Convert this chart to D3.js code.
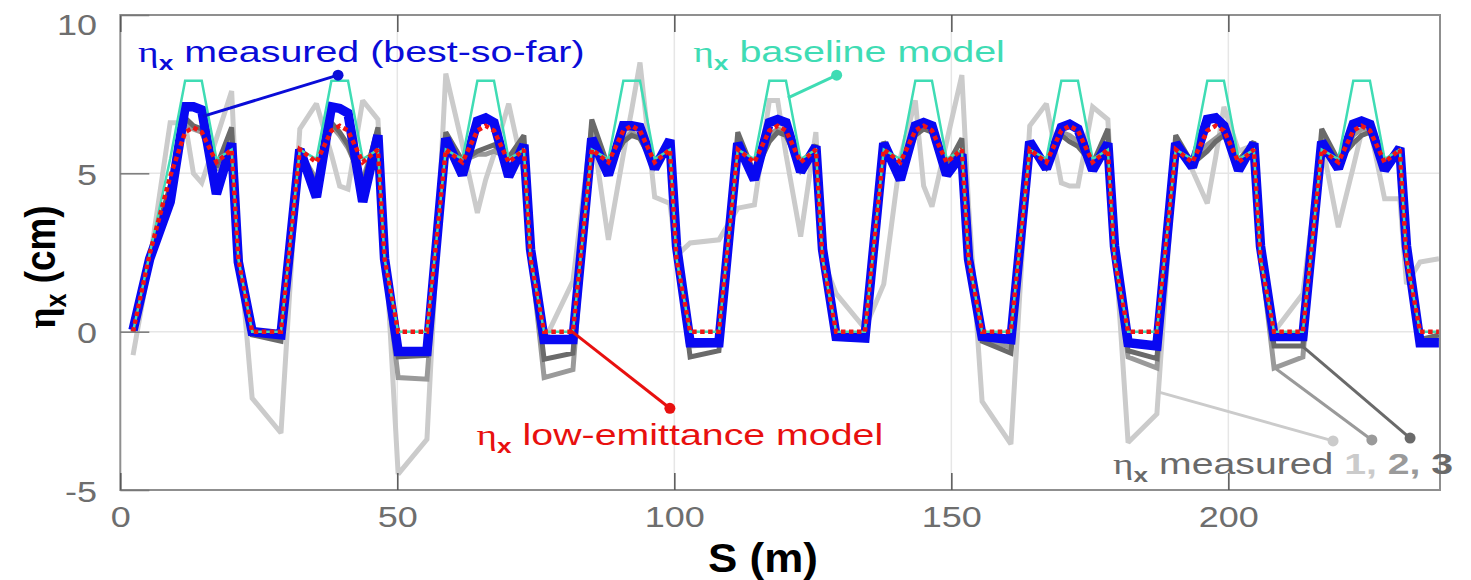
<!DOCTYPE html>
<html>
<head>
<meta charset="utf-8">
<script src="https://cdn.jsdelivr.net/npm/d3@7"></script>
<style>
  html, body { margin: 0; padding: 0; background: #fff; }
  svg { display: block; }
</style>
</head>
<body>
<script>
// BPM positions along the ring (m); one row per straight + arc
const sPosition = [
  2.3, 5.3, 9.0, 11.7, 13.2, 14.7, 17.35, 20.1, 21.3,
  23.8, 29.0, 32.4, 35.4, 38.1, 39.6, 41.1, 43.75, 46.5, 47.7,
  50.15, 55.35, 58.75, 61.75, 64.45, 65.95, 67.45, 70.1, 72.85, 74.05,
  76.5, 81.7, 85.1, 88.1, 90.8, 92.3, 93.8, 96.45, 99.2, 100.4,
  102.85, 108.05, 111.45, 114.45, 117.15, 118.65, 120.15, 122.8, 125.55, 126.75,
  129.2, 134.4, 137.8, 140.8, 143.5, 145.0, 146.5, 149.15, 151.9, 153.1,
  155.55, 160.75, 164.15, 167.15, 169.85, 171.35, 172.85, 175.5, 178.25, 179.45,
  181.9, 187.1, 190.5, 193.5, 196.2, 197.7, 199.2, 201.85, 204.6, 205.8,
  208.25, 213.45, 216.85, 219.85, 222.55, 224.05, 225.55, 228.2, 230.95, 232.15,
  234.6, 238.0
];

// Baseline lattice model (cm)
const etaBaseline = [
  0, 2.45, 5.45, 7.92, 7.92, 7.92, 5.45, 5.75, 2.3,
  0, 0, 5.75, 5.45, 7.92, 7.92, 7.92, 5.45, 5.75, 2.3,
  0, 0, 5.75, 5.45, 7.92, 7.92, 7.92, 5.45, 5.75, 2.3,
  0, 0, 5.75, 5.45, 7.92, 7.92, 7.92, 5.45, 5.75, 2.3,
  0, 0, 5.75, 5.45, 7.92, 7.92, 7.92, 5.45, 5.75, 2.3,
  0, 0, 5.75, 5.45, 7.92, 7.92, 7.92, 5.45, 5.75, 2.3,
  0, 0, 5.75, 5.45, 7.92, 7.92, 7.92, 5.45, 5.75, 2.3,
  0, 0, 5.75, 5.45, 7.92, 7.92, 7.92, 5.45, 5.75, 2.3,
  0, 0, 5.75, 5.45, 7.92, 7.92, 7.92, 5.45, 5.75, 2.3,
  0, 0
];

// Low-emittance lattice model (cm)
const etaLowEmittance = [
  0, 2.45, 4.9, 6.3, 6.45, 6.3, 5.35, 5.75, 2.3,
  0, 0, 5.75, 5.35, 6.35, 6.5, 6.35, 5.35, 5.75, 2.3,
  0, 0, 5.75, 5.35, 6.35, 6.5, 6.35, 5.35, 5.75, 2.3,
  0, 0, 5.75, 5.35, 6.35, 6.5, 6.35, 5.35, 5.75, 2.3,
  0, 0, 5.75, 5.35, 6.35, 6.5, 6.35, 5.35, 5.75, 2.3,
  0, 0, 5.75, 5.35, 6.35, 6.5, 6.35, 5.35, 5.75, 2.3,
  0, 0, 5.75, 5.35, 6.35, 6.5, 6.35, 5.35, 5.75, 2.3,
  0, 0, 5.75, 5.35, 6.35, 6.5, 6.35, 5.35, 5.75, 2.3,
  0, 0, 5.75, 5.35, 6.35, 6.5, 6.35, 5.35, 5.75, 2.3,
  0, 0
];

// Measured, best correction so far (cm)
const etaBestSoFar = [
  0.05, 2.3, 4.1, 7.1, 7.1, 7.0, 4.35, 5.95, 2.2,
  0.0, -0.1, 5.75, 4.25, 7.1, 7.05, 6.9, 4.1, 6.2, 2.3,
  -0.63, -0.63, 6.1, 4.95, 6.65, 6.75, 6.6, 4.9, 5.9, 2.6,
  -0.25, -0.25, 6.1, 4.95, 6.5, 6.5, 6.45, 5.15, 6.05, 2.7,
  -0.35, -0.35, 5.95, 4.8, 6.6, 6.7, 6.6, 5.05, 5.85, 2.6,
  -0.15, -0.2, 5.95, 4.8, 6.5, 6.6, 6.5, 4.95, 5.6, 2.3,
  -0.15, -0.25, 6.0, 5.15, 6.45, 6.55, 6.4, 5.1, 5.95, 2.7,
  -0.35, -0.45, 5.95, 5.2, 6.7, 6.75, 6.5, 5.1, 5.95, 2.7,
  -0.15, -0.15, 6.0, 5.15, 6.55, 6.65, 6.55, 5.1, 5.8, 2.7,
  -0.35, -0.35
];

// Earlier measurements 1, 2, 3 (cm)
const etaMeasured1 = [
  -0.74, 2.2, 6.6, 6.6, 5.0, 4.7, 6.1, 7.6, 3.0,
  -2.1, -3.2, 6.4, 7.2, 5.6, 4.6, 4.5, 7.3, 6.7, 3.2,
  -4.5, -3.4, 8.15, 5.9, 3.75, 4.8, 5.6, 7.2, 5.0, 2.5,
  -0.3, 1.6, 6.5, 2.9, 5.6, 7.0, 8.5, 4.25, 4.05, 2.4,
  2.8, 2.9, 3.9, 4.0, 7.3, 7.3, 5.6, 3.0, 6.3, 2.3,
  1.2, 0.1, 1.5, 5.5, 7.3, 4.6, 3.95, 6.0, 8.1, 4.0,
  -2.2, -3.55, 6.5, 7.2, 4.7, 4.6, 4.6, 7.1, 6.7, 3.0,
  -3.5, -2.6, 6.0, 5.1, 4.05, 5.5, 7.1, 5.7, 5.9, 3.0,
  0.0, 1.2, 6.0, 3.3, 5.2, 6.3, 6.45, 4.2, 4.2, 1.5,
  2.2, 2.3
];
const etaMeasured2 = [
  0.0, 2.3, 4.5, 6.6, 6.4, 6.3, 5.1, 6.2, 2.3,
  0.0, -0.15, 5.7, 4.8, 6.5, 6.2, 5.8, 4.8, 6.3, 2.2,
  -1.45, -1.5, 6.1, 5.4, 5.6, 5.6, 5.7, 5.5, 5.8, 2.5,
  -1.45, -1.2, 6.3, 5.2, 6.0, 6.3, 6.1, 5.2, 5.9, 2.5,
  -0.45, -0.4, 6.0, 5.0, 6.2, 6.4, 6.3, 5.1, 5.8, 2.4,
  -0.1, -0.15, 5.9, 5.0, 6.3, 6.5, 6.3, 5.1, 5.6, 2.4,
  -0.2, -0.5, 5.9, 5.2, 6.3, 6.2, 6.0, 5.2, 6.0, 2.6,
  -0.8, -1.15, 6.0, 5.3, 5.9, 6.1, 6.3, 5.3, 5.9, 2.5,
  -1.15, -0.8, 6.1, 5.3, 6.2, 6.4, 6.4, 5.2, 5.7, 2.5,
  -0.3, -0.2
];
const etaMeasured3 = [
  0.0, 2.4, 4.6, 6.75, 6.5, 6.4, 5.2, 6.45, 2.3,
  -0.1, -0.3, 5.8, 4.6, 6.6, 6.3, 5.9, 4.6, 6.45, 2.3,
  -0.8, -0.75, 6.3, 5.4, 5.7, 5.8, 5.9, 5.5, 6.2, 2.6,
  -0.87, -0.68, 6.7, 5.2, 6.0, 6.2, 6.1, 5.3, 6.0, 2.6,
  -0.8, -0.6, 6.3, 5.0, 6.0, 6.3, 6.2, 5.2, 5.9, 2.5,
  -0.2, -0.25, 6.0, 5.0, 6.2, 6.4, 6.3, 5.2, 6.1, 2.4,
  -0.3, -0.68, 6.0, 5.2, 6.2, 6.0, 5.85, 5.3, 6.4, 2.6,
  -0.6, -0.85, 6.2, 5.3, 5.7, 6.0, 6.2, 5.4, 6.0, 2.6,
  -0.45, -0.45, 6.4, 5.4, 5.95, 6.2, 6.3, 5.3, 5.8, 2.6,
  -0.25, -0.1
];

const xTicks = [0, 50, 100, 150, 200];
const yTicks = [-5, 0, 5, 10];

// ---------------------------------------------------------------------------
const W = 1471, H = 580;
const plot = { left: 120.3, right: 1440, top: 15, bottom: 490 };
const x = d3.scaleLinear().domain([0, 238.2]).range([plot.left, plot.right]);
const y = d3.scaleLinear().domain([-5, 10]).range([plot.bottom, plot.top]);

const SANS = "'Liberation Sans', Arial, Helvetica, sans-serif";
const SERIF = "'Liberation Serif', 'Times New Roman', serif";
const plainNumber = d => String(d);

const svg = d3.select('body').append('svg')
  .attr('width', W).attr('height', H)
  .style('background', '#fff');

svg.append('defs').append('clipPath').attr('id', 'plot-clip')
  .append('rect')
  .attr('x', plot.left).attr('y', plot.top)
  .attr('width', plot.right - plot.left).attr('height', plot.bottom - plot.top);

// grid
const grid = svg.append('g').attr('class', 'grid');
grid.selectAll('line.gx').data(xTicks.filter(d => d > 0)).join('line')
  .attr('class', 'gx')
  .attr('x1', d => x(d)).attr('x2', d => x(d))
  .attr('y1', plot.top).attr('y2', plot.bottom)
  .attr('stroke', '#e6e6e6').attr('stroke-width', 1.5);
grid.selectAll('line.gy').data(yTicks.filter(d => d > -5 && d < 10)).join('line')
  .attr('class', 'gy')
  .attr('x1', plot.left).attr('x2', plot.right)
  .attr('y1', d => y(d)).attr('y2', d => y(d))
  .attr('stroke', '#e6e6e6').attr('stroke-width', 1.5);

// dispersion curves
const lineGen = d3.line()
  .x((d, i) => x(sPosition[i]))
  .y(d => y(d));

const series = [
  { name: 'measured-1', values: etaMeasured1, color: '#cbcbcb', width: 5 },
  { name: 'measured-2', values: etaMeasured2, color: '#9a9a9a', width: 5 },
  { name: 'measured-3', values: etaMeasured3, color: '#6a6a6a', width: 5 },
  { name: 'best-so-far', values: etaBestSoFar, color: '#0808f2', width: 9.5 },
  { name: 'baseline', values: etaBaseline, color: '#3fdcb4', width: 2.5 },
  { name: 'low-emittance', values: etaLowEmittance, color: '#f01414', width: 4.5, dash: '4.5,3.5' }
];

const curves = svg.append('g').attr('clip-path', 'url(#plot-clip)');
curves.selectAll('path').data(series).join('path')
  .attr('d', d => lineGen(d.values))
  .attr('fill', 'none')
  .attr('stroke', d => d.color)
  .attr('stroke-width', d => d.width)
  .attr('stroke-linejoin', 'miter')
  .attr('stroke-miterlimit', 2.2)
  .attr('stroke-dasharray', d => d.dash || null);

// box
svg.append('rect')
  .attr('x', plot.left).attr('y', plot.top)
  .attr('width', plot.right - plot.left).attr('height', plot.bottom - plot.top)
  .attr('fill', 'none').attr('stroke', '#8f8f8f').attr('stroke-width', 2);

// axes
const gx = svg.append('g')
  .attr('transform', `translate(0,${plot.bottom})`)
  .call(d3.axisBottom(x).tickValues(xTicks).tickSize(-17).tickPadding(0).tickFormat(plainNumber));
gx.select('.domain').remove();
gx.attr('font-family', SANS).attr('font-size', 30);
gx.selectAll('.tick line').attr('stroke', '#555').attr('stroke-width', 1.5);
gx.selectAll('.tick text')
  .attr('y', 37).attr('dy', null)
  .attr('fill', '#6e6e6e')
  .attr('transform', 'scale(1.2,1)');

const gxTop = svg.append('g')
  .attr('transform', `translate(0,${plot.top})`)
  .call(d3.axisTop(x).tickValues(xTicks).tickSize(-17).tickFormat(''));
gxTop.select('.domain').remove();
gxTop.selectAll('.tick line').attr('stroke', '#555').attr('stroke-width', 1.5);

const gy = svg.append('g')
  .attr('transform', `translate(${plot.left},0)`)
  .call(d3.axisLeft(y).tickValues(yTicks).tickSize(-29).tickPadding(0).tickFormat(plainNumber));
gy.select('.domain').remove();
gy.attr('font-family', SANS).attr('font-size', 30);
gy.selectAll('.tick line').attr('stroke', '#777').attr('stroke-width', 1.5);
gy.selectAll('.tick text')
  .attr('x', -19.4).attr('dy', null)
  .attr('y', d => Math.max(y(d), 23) - y(d) + 11)
  .attr('fill', '#6e6e6e')
  .attr('transform', 'scale(1.2,1)');

// axis titles
const yTitle = svg.append('text')
  .attr('font-family', SANS).attr('font-weight', 'bold').attr('font-size', 35)
  .attr('text-anchor', 'middle').attr('fill', '#000');
yTitle.append('tspan').attr('font-family', SERIF).text('η');
yTitle.append('tspan').attr('font-size', 24).attr('dy', 9).text('x');
yTitle.append('tspan').attr('dy', -9).text(' (cm)');
{
  const w = yTitle.node().getComputedTextLength();
  yTitle.attr('transform', `translate(55,267) rotate(-90) scale(${123 / w},1.2)`);
}

const xTitle = svg.append('text')
  .attr('font-family', SANS).attr('font-weight', 'bold').attr('font-size', 41)
  .attr('text-anchor', 'middle').attr('fill', '#000')
  .text('S (m)');
{
  const w = xTitle.node().getComputedTextLength();
  xTitle.attr('transform', `translate(763,572) scale(${110 / w},1)`);
}

// annotations: label start (s, eta), label span in s, connector from curve to dot
const annotations = [
  {
    at: [3.2, 8.53], span: 80.6, color: '#0a0cd8',
    from: [14.9, 6.8], to: [39.3, 8.1],
    parts: [{ t: 'η', serif: true }, { t: 'x', sub: true }, { t: ' measured (best-so-far)', unsub: true }]
  },
  {
    at: [103.4, 8.53], span: 56.3, color: '#3fdcb4',
    from: [120.5, 7.38], to: [129.3, 8.1],
    parts: [{ t: 'η', serif: true }, { t: 'x', sub: true }, { t: ' baseline model', unsub: true }]
  },
  {
    at: [64.3, -3.58], span: 73.4, color: '#e8100f',
    from: [81.2, 0.05], to: [99.2, -2.42],
    parts: [{ t: 'η', serif: true }, { t: 'x', sub: true }, { t: ' low-emittance model', unsub: true }]
  },
  {
    at: [179.2, -4.49], span: 61.4, color: '#6a6a6a',
    parts: [{ t: 'η', serif: true }, { t: 'x', sub: true }, { t: ' measured ', unsub: true },
            { t: '1, ', bold: true, color: '#cbcbcb' }, { t: '2, ', bold: true, color: '#9a9a9a' },
            { t: '3', bold: true, color: '#6a6a6a' }]
  }
];

const grayConnectors = [
  { color: '#cbcbcb', from: [187.3, -1.9], to: [218.9, -3.45] },
  { color: '#9a9a9a', from: [208.1, -1.11], to: [225.9, -3.42] },
  { color: '#6a6a6a', from: [213.5, -0.48], to: [232.8, -3.36] }
];

const ann = svg.append('g').attr('class', 'annotations');
const connectors = annotations.filter(a => a.from)
  .map(a => ({ color: a.color, from: a.from, to: a.to }))
  .concat(grayConnectors);

ann.selectAll('line').data(connectors).join('line')
  .attr('x1', d => x(d.from[0])).attr('y1', d => y(d.from[1]))
  .attr('x2', d => x(d.to[0])).attr('y2', d => y(d.to[1]))
  .attr('stroke', d => d.color).attr('stroke-width', 3);
ann.selectAll('circle').data(connectors).join('circle')
  .attr('cx', d => x(d.to[0])).attr('cy', d => y(d.to[1]))
  .attr('r', 5.5).attr('fill', d => d.color);

annotations.forEach(a => {
  const t = ann.append('text')
    .attr('font-family', SANS).attr('font-size', 30).attr('fill', a.color);
  a.parts.forEach(p => {
    const ts = t.append('tspan').text(p.t);
    if (p.serif) ts.attr('font-family', SERIF);
    if (p.sub) ts.attr('font-size', 20).attr('font-weight', 'bold').attr('dy', 8);
    if (p.unsub) ts.attr('dy', -8);
    if (p.bold) ts.attr('font-weight', 'bold');
    if (p.color) ts.attr('fill', p.color);
  });
  const w = t.node().getComputedTextLength();
  const k = (x(a.at[0] + a.span) - x(a.at[0])) / w;
  t.attr('transform', `translate(${x(a.at[0])},${y(a.at[1])}) scale(${k},1)`);
});
</script>
</body>
</html>
